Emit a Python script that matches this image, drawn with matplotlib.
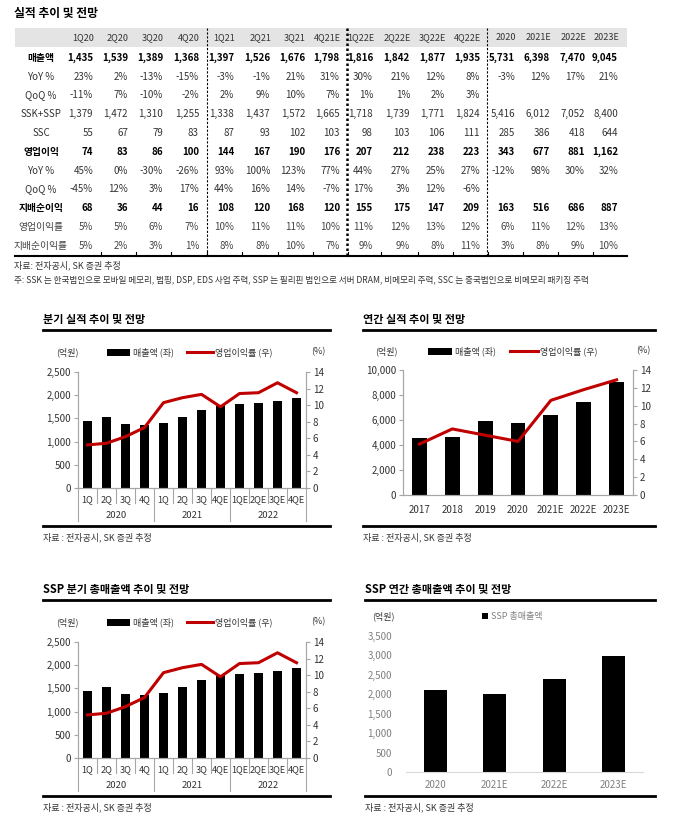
import matplotlib.pyplot as plt
import matplotlib.patches as mpatches
import numpy as np

plt.rcParams['font.family'] = ['Noto Sans CJK KR', 'DejaVu Sans']

# ---- 표 데이터 ----
cols = ['1Q20', '2Q20', '3Q20', '4Q20', '1Q21', '2Q21', '3Q21', '4Q21E',
        '1Q22E', '2Q22E', '3Q22E', '4Q22E', '2020', '2021E', '2022E', '2023E']
sales = [1435, 1539, 1389, 1368, 1397, 1526, 1676, 1798, 1816, 1842, 1877, 1935,
         5731, 6398, 7470, 9045]
sales_yoy = [23, 2, -13, -15, -3, -1, 21, 31, 30, 21, 12, 8, -3, 12, 17, 21]
sales_qoq = [-11, 7, -10, -2, 2, 9, 10, 7, 1, 1, 2, 3, None, None, None, None]
ssk_ssp = [1379, 1472, 1310, 1255, 1338, 1437, 1572, 1665, 1718, 1739, 1771, 1824,
           5416, 6012, 7052, 8400]
ssc = [55, 67, 79, 83, 87, 93, 102, 103, 98, 103, 106, 111, 285, 386, 418, 644]
op = [74, 83, 86, 100, 144, 167, 190, 176, 207, 212, 238, 223, 343, 677, 881, 1162]
op_yoy = [45, 0, -30, -26, 93, 100, 123, 77, 44, 27, 25, 27, -12, 98, 30, 32]
op_qoq = [-45, 12, 3, 17, 44, 16, 14, -7, 17, 3, 12, -6, None, None, None, None]
ni = [68, 36, 44, 16, 108, 120, 168, 120, 155, 175, 147, 209, 163, 516, 686, 887]
opm = [5, 5, 6, 7, 10, 11, 11, 10, 11, 12, 13, 12, 6, 11, 12, 13]
nim = [5, 2, 3, 1, 8, 8, 10, 7, 9, 9, 8, 11, 3, 8, 9, 10]

# ---- 차트 데이터 ----
q_labels = ['1Q', '2Q', '3Q', '4Q', '1Q', '2Q', '3Q', '4QE', '1QE', '2QE', '3QE', '4QE']
q_years = ['2020', '2021', '2022']
q_sales = sales[:12]
q_margin = [5.2, 5.4, 6.2, 7.3, 10.3, 10.9, 11.3, 9.8, 11.4, 11.5, 12.7, 11.5]

y_labels = ['2017', '2018', '2019', '2020', '2021E', '2022E', '2023E']
y_sales = [4530, 4610, 5950, 5731, 6398, 7470, 9045]
y_margin = [5.7, 7.4, 6.7, 6.0, 10.6, 11.8, 12.9]

ssp_labels = ['2020', '2021E', '2022E', '2023E']
ssp_sales = [2110, 2005, 2390, 2980]

RED = '#c00000'
W, H = 678, 825
fig = plt.figure(figsize=(6.78, 8.25), dpi=100)
bg = fig.add_axes([0, 0, 1, 1])
bg.set_xlim(0, W)
bg.set_ylim(H, 0)
bg.axis('off')


def box(l, t, r, b):
    return [l / W, 1 - b / H, (r - l) / W, (b - t) / H]


# ---- 표 ----
bg.text(14, 14, '실적 추이 및 전망', fontsize=8.5, fontweight='bold', va='center')
bg.add_patch(mpatches.Rectangle((15, 28), 612, 19, color='#e4e4e4', lw=0))
col_x = [93, 128, 163, 199, 234, 270, 305, 340, 373, 410, 445, 480, 515, 550, 585, 618]
for x, c in zip(col_x, cols):
    bg.text(x + 1, 38, c, ha='right', va='center', fontsize=6.5, color='#333')


def num(v):
    return '' if v is None else f'{v:,}'


def pct(v):
    return '' if v is None else f'{v}%'


rows = [
    ('매출액', sales, num, 'bold'),
    ('YoY %', sales_yoy, pct, 'normal'),
    ('QoQ %', sales_qoq, pct, 'normal'),
    ('SSK+SSP', ssk_ssp, num, 'normal'),
    ('SSC', ssc, num, 'normal'),
    ('영업이익', op, num, 'bold'),
    ('YoY %', op_yoy, pct, 'normal'),
    ('QoQ %', op_qoq, pct, 'normal'),
    ('지배순이익', ni, num, 'bold'),
    ('영업이익률', opm, pct, 'italic'),
    ('지배순이익률', nim, pct, 'italic'),
]
row_y = [58, 77, 95, 114, 133, 152, 171, 189, 208, 227, 246]
for (lab, vals, f, st), y in zip(rows, row_y):
    kw = dict(fontsize=7, va='center')
    if st == 'bold':
        kw.update(fontweight='bold', color='black')
    elif st == 'italic':
        kw.update(style='italic', color='#444')
    else:
        kw.update(color='#333')
    bg.text(41, y, lab, ha='center', **kw)
    for x, v in zip(col_x, vals):
        bg.text(x, y, f(v), ha='right', **kw)

bg.plot([207, 207], [28, 256], color='k', lw=0.8, ls=(0, (2, 1.5)))
bg.plot([347, 347], [28, 256], color='k', lw=1.8, ls=(0, (1, 1)))
bg.plot([487, 487], [28, 256], color='k', lw=0.8, ls=(0, (2, 1.5)))
bg.plot([15, 627], [256, 256], color='k', lw=1.5)
for x in col_x[:-1]:
    bg.plot([x + 8, x + 8], [252, 256], color='k', lw=0.8)
bg.text(14, 265, '자료: 전자공시, SK 증권 추정', fontsize=6.5, va='center', color='#333')
bg.text(14, 280, '주: SSK 는 한국법인으로 모바일 메모리, 범핑, DSP, EDS 사업 주력, SSP 는 필리핀 법인으로 '
        '서버 DRAM, 비메모리 주력, SSC 는 중국법인으로 비메모리 패키징 주력',
        fontsize=6.2, va='center', color='#333')


# ---- 차트 공통 ----
def frame(x0, x1, y0, title):
    bg.text(x0, y0, title, fontsize=8, fontweight='bold', va='center')
    bg.plot([x0, x1], [y0 + 11, y0 + 11], color='k', lw=2)
    bg.plot([x0, x1], [y0 + 207, y0 + 207], color='k', lw=2)
    bg.text(x0, y0 + 218, '자료 : 전자공시, SK 증권 추정', fontsize=6.5, va='center', color='#333')


def combo_legend(xs, y):
    ux, bx0, bx1, tx, lx0, lx1, lt, px = xs
    bg.text(ux, y, '(억원)', fontsize=6.5, ha='center', va='center', color='#333')
    bg.add_patch(mpatches.Rectangle((bx0, y - 3.5), bx1 - bx0, 7, color='k', lw=0))
    bg.text(tx, y, '매출액 (좌)', fontsize=6.5, va='center', color='#333')
    bg.plot([lx0, lx1], [y, y], color=RED, lw=2.2)
    bg.text(lt, y, '영업이익률 (우)', fontsize=6.5, va='center', color='#333')
    bg.text(px, y, '(%)', fontsize=6.5, ha='center', va='center', color='#333')


def style_axes(ax, ax2):
    for a in (ax, ax2):
        a.spines['top'].set_visible(False)
        for s in ('left', 'right', 'bottom'):
            a.spines[s].set_color('#a6a6a6')
            a.spines[s].set_linewidth(0.8)
        a.tick_params(axis='y', length=3, width=0.8, color='#a6a6a6', labelsize=7,
                      labelcolor='#333', pad=2)


def quarter_chart(rect, title_y, title):
    frame(43, 330, title_y, title)
    combo_legend((67, 107, 130, 133, 187, 213, 215, 318), title_y + 33)
    ax = fig.add_axes(rect)
    x = np.arange(len(q_sales))
    ax.bar(x, q_sales, width=0.48, color='k', zorder=2)
    ax.set_xlim(-0.5, len(q_sales) - 0.5)
    ax.set_ylim(0, 2500)
    ax.set_yticks(range(0, 2501, 500))
    ax.set_yticklabels([f'{v:,}' for v in range(0, 2501, 500)])
    ax.set_xticks([])
    ax2 = ax.twinx()
    ax2.plot(x, q_margin, color=RED, lw=2.2, solid_joinstyle='round', zorder=3)
    ax2.set_ylim(0, 14)
    ax2.set_yticks(range(0, 15, 2))
    style_axes(ax, ax2)
    tr = ax.get_xaxis_transform()
    hgt = rect[3] * H
    for i, lab in enumerate(q_labels):
        ax.text(i, -12 / hgt, lab, transform=tr, ha='center', va='center', fontsize=6.6, color='#333')
    for i in range(1, len(q_labels)):
        if i % 4:
            ax.plot([i - 0.5, i - 0.5], [0, -15 / hgt], transform=tr, color='#a6a6a6', lw=0.8, clip_on=False)
    for g in range(4):
        ax.plot([g * 4 - 0.5, g * 4 - 0.5], [0, -33 / hgt], transform=tr, color='#a6a6a6', lw=0.8, clip_on=False)
    for g, yr in enumerate(q_years):
        ax.text(g * 4 + 1.5, -28 / hgt, yr, transform=tr, ha='center', va='center', fontsize=6.8, color='#333')


quarter_chart(box(78, 372, 306, 488), 319, '분기 실적 추이 및 전망')
quarter_chart(box(78, 642, 306, 758), 589, 'SSP 분기 총매출액 추이 및 전망')

# ---- 연간 실적 ----
frame(363, 655, 319, '연간 실적 추이 및 전망')
combo_legend((386, 428, 452, 455, 510, 538, 540, 643), 351)
ax = fig.add_axes(box(403, 370, 633, 495))
x = np.arange(len(y_sales))
ax.bar(x, y_sales, width=0.45, color='k', zorder=2)
ax.set_xlim(-0.5, len(y_sales) - 0.5)
ax.set_ylim(0, 10000)
ax.set_yticks(range(0, 10001, 2000))
ax.set_yticklabels([f'{v:,}' for v in range(0, 10001, 2000)])
ax.set_xticks(x)
ax.set_xticklabels(y_labels)
ax.tick_params(axis='x', length=0, pad=7, labelsize=7, labelcolor='#333')
ax2 = ax.twinx()
ax2.plot(x, y_margin, color=RED, lw=2.2, solid_joinstyle='round', zorder=3)
ax2.set_ylim(0, 14)
ax2.set_yticks(range(0, 15, 2))
style_axes(ax, ax2)

# ---- SSP 연간 ----
frame(365, 655, 589, 'SSP 연간 총매출액 추이 및 전망')
bg.text(383, 616, '(억원)', fontsize=6.5, ha='center', va='center', color='#333')
bg.add_patch(mpatches.Rectangle((482, 613), 6, 6, color='k', lw=0))
bg.text(491, 616, 'SSP 총매출액', fontsize=6.5, va='center', color='#7f7f7f')
ax = fig.add_axes(box(406, 636, 643, 772))
x = np.arange(len(ssp_sales))
ax.bar(x, ssp_sales, width=0.39, color='k', zorder=2)
ax.set_xlim(-0.5, len(ssp_sales) - 0.5)
ax.set_ylim(0, 3500)
ax.set_yticks(range(0, 3501, 500))
ax.set_yticklabels([f'{v:,}' for v in range(0, 3501, 500)])
ax.set_xticks(x)
ax.set_xticklabels(ssp_labels)
for s in ('top', 'left', 'right'):
    ax.spines[s].set_visible(False)
ax.spines['bottom'].set_color('#d9d9d9')
ax.tick_params(axis='y', length=0, pad=10, labelsize=7, labelcolor='#7f7f7f')
ax.tick_params(axis='x', length=0, pad=6, labelsize=7, labelcolor='#7f7f7f')

fig.savefig('out.png', dpi=100)
